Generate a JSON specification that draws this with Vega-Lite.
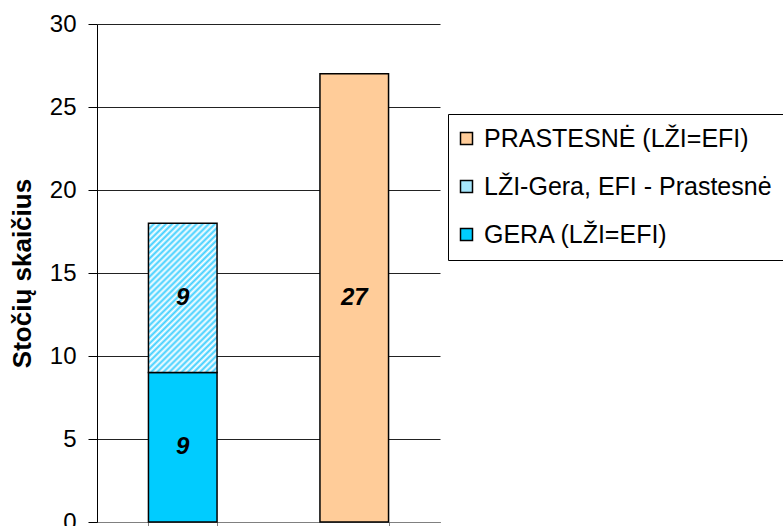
{
  "$schema": "https://vega.github.io/schema/vega-lite/v6.json",
  "width": 343,
  "height": 498,
  "autosize": {"type": "none"},
  "padding": {"left": 97, "top": 24, "right": 343, "bottom": 4},
  "background": "white",
  "config": {
    "view": {"stroke": null},
    "font": "Liberation Sans",
    "axis": {"labelColor": "black", "titleColor": "black", "labelFont": "Liberation Sans", "titleFont": "Liberation Sans"},
    "legend": {"labelFont": "Liberation Sans", "labelColor": "black"}
  },
  "data": {
    "values": [
      {"grupe": "GERA", "serija": "GERA (LŽI=EFI)", "order": 1, "value": 9},
      {"grupe": "GERA", "serija": "LŽI-Gera, EFI - Prastesnė", "order": 2, "value": 9},
      {"grupe": "PRASTESNĖ", "serija": "PRASTESNĖ (LŽI=EFI)", "order": 3, "value": 27}
    ]
  },
  "encoding": {
    "x": {
      "field": "grupe",
      "type": "nominal",
      "sort": null,
      "scale": {"paddingInner": 0.6, "paddingOuter": 0.3},
      "axis": {
        "title": null,
        "labels": false,
        "ticks": true,
        "tickBand": "extent",
        "tickSize": 8,
        "tickColor": "#808080",
        "domainColor": "#808080",
        "grid": false
      }
    },
    "y": {
      "field": "value",
      "type": "quantitative",
      "stack": "zero",
      "scale": {"domain": [0, 30], "nice": false},
      "axis": {
        "title": "Stočių skaičius",
        "titleFontSize": 26,
        "titleFontWeight": "bold",
        "titlePadding": 14,
        "values": [0, 5, 10, 15, 20, 25, 30],
        "labelFontSize": 24,
        "labelPadding": 12,
        "tickSize": 9,
        "tickColor": "black",
        "domainColor": "black",
        "grid": true,
        "gridColor": "#222222",
        "gridWidth": 1
      }
    },
    "order": {"field": "order", "type": "quantitative"}
  },
  "layer": [
    {
      "mark": {"type": "bar", "stroke": "black", "strokeWidth": 1.5},
      "encoding": {
        "fill": {
          "condition": {
            "test": "datum.serija === 'LŽI-Gera, EFI - Prastesnė'",
            "value": {"gradient": "linear", "x1": 0, "y1": 0, "x2": 0.547, "y2": 1.2, "stops": [
                {"offset": 0, "color": "#3FCFFF"}, {"offset": 0.014, "color": "#FFFFFF"},
                {"offset": 0.028, "color": "#3FCFFF"}, {"offset": 0.042, "color": "#FFFFFF"},
                {"offset": 0.056, "color": "#3FCFFF"}, {"offset": 0.07, "color": "#FFFFFF"},
                {"offset": 0.084, "color": "#3FCFFF"}, {"offset": 0.098, "color": "#FFFFFF"},
                {"offset": 0.112, "color": "#3FCFFF"}, {"offset": 0.126, "color": "#FFFFFF"},
                {"offset": 0.14, "color": "#3FCFFF"}, {"offset": 0.154, "color": "#FFFFFF"},
                {"offset": 0.168, "color": "#3FCFFF"}, {"offset": 0.182, "color": "#FFFFFF"},
                {"offset": 0.196, "color": "#3FCFFF"}, {"offset": 0.21, "color": "#FFFFFF"},
                {"offset": 0.224, "color": "#3FCFFF"}, {"offset": 0.238, "color": "#FFFFFF"},
                {"offset": 0.252, "color": "#3FCFFF"}, {"offset": 0.266, "color": "#FFFFFF"},
                {"offset": 0.28, "color": "#3FCFFF"}, {"offset": 0.294, "color": "#FFFFFF"},
                {"offset": 0.308, "color": "#3FCFFF"}, {"offset": 0.322, "color": "#FFFFFF"},
                {"offset": 0.336, "color": "#3FCFFF"}, {"offset": 0.35, "color": "#FFFFFF"},
                {"offset": 0.364, "color": "#3FCFFF"}, {"offset": 0.378, "color": "#FFFFFF"},
                {"offset": 0.392, "color": "#3FCFFF"}, {"offset": 0.406, "color": "#FFFFFF"},
                {"offset": 0.42, "color": "#3FCFFF"}, {"offset": 0.434, "color": "#FFFFFF"},
                {"offset": 0.448, "color": "#3FCFFF"}, {"offset": 0.462, "color": "#FFFFFF"},
                {"offset": 0.476, "color": "#3FCFFF"}, {"offset": 0.49, "color": "#FFFFFF"},
                {"offset": 0.504, "color": "#3FCFFF"}, {"offset": 0.518, "color": "#FFFFFF"},
                {"offset": 0.532, "color": "#3FCFFF"}, {"offset": 0.546, "color": "#FFFFFF"},
                {"offset": 0.56, "color": "#3FCFFF"}, {"offset": 0.574, "color": "#FFFFFF"},
                {"offset": 0.588, "color": "#3FCFFF"}, {"offset": 0.602, "color": "#FFFFFF"},
                {"offset": 0.616, "color": "#3FCFFF"}, {"offset": 0.63, "color": "#FFFFFF"},
                {"offset": 0.644, "color": "#3FCFFF"}, {"offset": 0.658, "color": "#FFFFFF"},
                {"offset": 0.672, "color": "#3FCFFF"}, {"offset": 0.686, "color": "#FFFFFF"},
                {"offset": 0.7, "color": "#3FCFFF"}, {"offset": 0.714, "color": "#FFFFFF"},
                {"offset": 0.728, "color": "#3FCFFF"}, {"offset": 0.742, "color": "#FFFFFF"},
                {"offset": 0.756, "color": "#3FCFFF"}, {"offset": 0.77, "color": "#FFFFFF"},
                {"offset": 0.784, "color": "#3FCFFF"}, {"offset": 0.798, "color": "#FFFFFF"},
                {"offset": 0.812, "color": "#3FCFFF"}, {"offset": 0.826, "color": "#FFFFFF"},
                {"offset": 0.84, "color": "#3FCFFF"}, {"offset": 0.854, "color": "#FFFFFF"},
                {"offset": 0.868, "color": "#3FCFFF"}, {"offset": 0.882, "color": "#FFFFFF"},
                {"offset": 0.896, "color": "#3FCFFF"}, {"offset": 0.91, "color": "#FFFFFF"},
                {"offset": 0.924, "color": "#3FCFFF"}, {"offset": 0.938, "color": "#FFFFFF"},
                {"offset": 0.952, "color": "#3FCFFF"}, {"offset": 0.966, "color": "#FFFFFF"},
                {"offset": 0.98, "color": "#3FCFFF"}, {"offset": 0.994, "color": "#FFFFFF"},
                {"offset": 1, "color": "#3FCFFF"}
            ]}
          },
          "field": "serija",
          "type": "nominal",
          "scale": {
            "domain": ["PRASTESNĖ (LŽI=EFI)", "LŽI-Gera, EFI - Prastesnė", "GERA (LŽI=EFI)"],
            "range": ["#FFCC99", "#A6E6FB", "#00CCFF"]
          },
          "legend": {
            "title": null,
            "orient": "none",
            "legendX": 351,
            "legendY": 90,
            "strokeColor": "black",
            "fillColor": "white",
            "padding": 12,
            "symbolType": "square",
            "symbolSize": 144,
            "symbolOffset": -6,
            "symbolStrokeColor": "black",
            "symbolStrokeWidth": 1.5,
            "symbolOpacity": 1,
            "labelFontSize": 25,
            "labelOffset": 5,
            "labelLimit": 500,
            "rowPadding": 22
          }
        }
      }
    },
    {
      "mark": {"type": "text", "fontSize": 24, "fontWeight": "bold", "fontStyle": "italic", "color": "black", "baseline": "middle", "align": "center"},
      "encoding": {
        "y": {"field": "value", "type": "quantitative", "stack": "zero", "bandPosition": 0.5},
        "detail": {"field": "serija"},
        "text": {"field": "value", "type": "quantitative"}
      }
    }
  ]
}
